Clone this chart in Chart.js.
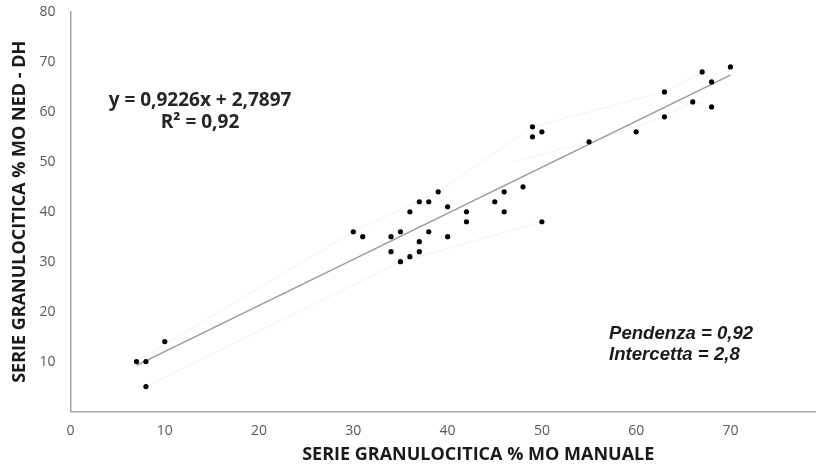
<!DOCTYPE html>
<html>
<head>
<meta charset="utf-8">
<script src="https://cdn.jsdelivr.net/npm/chart.js@4/dist/chart.umd.min.js"></script>
<style>
  html, body { margin: 0; padding: 0; overflow: hidden; background: #fff; }
  canvas { display: block; }
</style>
</head>
<body>
<canvas id="chart" width="890" height="468"></canvas>
<script>
// % granulocytic series: manual count (x) vs NED-DH (y)
const manuale = [7, 8, 8, 10,
  30, 31, 34, 35, 34, 35, 36, 37, 37, 36, 37, 38, 38, 39, 40, 40, 42, 42, 45, 46, 46, 48, 50,
  49, 49, 50, 55, 60, 63, 63, 66, 67, 68, 68, 70];
const nedDh = [10, 10, 5, 14,
  36, 35, 35, 36, 32, 30, 31, 32, 34, 40, 42, 42, 36, 44, 41, 35, 40, 38, 42, 44, 40, 45, 38,
  57, 55, 56, 54, 56, 64, 59, 62, 68, 66, 61, 69];

// faint envelope lines around the cloud
const bandUpperX = [7, 30, 39, 49, 63, 67];
const bandUpperY = [10, 36, 44, 57, 64, 68];
const bandLowerX = [8, 35, 50];
const bandLowerY = [5, 30, 38];
const bandRightX = [47, 55, 63, 66, 68];
const bandRightY = [50, 54, 59, 62, 61];

// regression line
const slope = 0.9226;
const intercept = 2.7897;
const r2 = 0.92;

const xTicks = [0, 10, 20, 30, 40, 50, 60, 70, 80];
const yTicks = [10, 20, 30, 40, 50, 60, 70, 80];

const toPts = (xs, ys) => xs.map((x, i) => ({ x: x, y: ys[i] }));
const comma = (v, d) => v.toFixed(d).replace('.', ',');

const xMin = Math.min(...manuale);
const xMax = Math.max(...manuale);
const trend = [
  { x: xMin, y: slope * xMin + intercept },
  { x: xMax, y: slope * xMax + intercept }
];

const notes = {
  id: 'notes',
  afterDraw(chart) {
    const ctx = chart.ctx;
    ctx.save();
    ctx.fillStyle = '#262626';
    ctx.textAlign = 'center';
    ctx.textBaseline = 'middle';
    ctx.font = 'bold 19px "Open Sans"';
    ctx.fillText('y = ' + comma(slope, 4) + 'x + ' + comma(intercept, 4), 200, 101);
    ctx.fillText('R² = ' + comma(r2, 2), 200, 123);

    ctx.fillStyle = '#1a1a1a';
    ctx.textAlign = 'left';
    ctx.font = 'italic bold 18.6px "Liberation Sans"';
    ctx.fillText('Pendenza = ' + comma(slope, 2), 609, 334);
    ctx.fillText('Intercetta = ' + comma(intercept, 1), 609, 355);
    ctx.restore();
  }
};

const tickFont = { family: 'Open Sans', size: 14 };
const titleFont = { family: 'Open Sans', size: 18, weight: 'bold' };

const faint = (xs, ys) => ({
  data: toPts(xs, ys),
  showLine: true,
  borderColor: '#f1f1f1',
  borderWidth: 1,
  pointRadius: 0
});

new Chart(document.getElementById('chart'), {
  type: 'scatter',
  data: {
    datasets: [
      {
        label: 'punti',
        data: toPts(manuale, nedDh),
        pointRadius: 2.6,
        pointBackgroundColor: '#000',
        pointBorderWidth: 0,
        showLine: false
      },
      {
        label: 'lineare',
        data: trend,
        showLine: true,
        borderColor: '#9a9a9a',
        borderWidth: 1.5,
        pointRadius: 0
      },
      faint(bandUpperX, bandUpperY),
      faint(bandLowerX, bandLowerY),
      faint(bandRightX, bandRightY)
    ]
  },
  options: {
    responsive: false,
    animation: false,
    layout: { padding: { top: 12, right: 4, bottom: 0, left: 0 } },
    plugins: {
      legend: { display: false },
      tooltip: { enabled: false }
    },
    scales: {
      x: {
        min: 0,
        max: 86.5,
        afterFit: s => { s.height = 56.5; s.paddingLeft = 0; s.paddingRight = 0; },
        afterBuildTicks: s => { s.ticks = xTicks.map(v => ({ value: v })); },
        grid: { display: false, drawTicks: false },
        border: { display: true, color: '#a6a6a6', width: 1.5 },
        ticks: { padding: 11, color: '#595959', font: tickFont, includeBounds: false },
        title: {
          display: true,
          text: 'SERIE GRANULOCITICA % MO MANUALE',
          color: '#1a1a1a',
          font: titleFont,
          padding: { top: 0, bottom: 2 }
        }
      },
      y: {
        min: 0,
        max: 80,
        afterFit: s => { s.width = 70.5; s.paddingTop = 0; s.paddingBottom = 0; },
        afterBuildTicks: s => { s.ticks = yTicks.map(v => ({ value: v })); },
        grid: { display: false, drawTicks: false },
        border: { display: true, color: '#a6a6a6', width: 1.5 },
        ticks: { padding: 15, color: '#595959', font: tickFont },
        title: {
          display: true,
          text: 'SERIE GRANULOCITICA % MO NED - DH',
          color: '#1a1a1a',
          font: titleFont,
          padding: { top: 9, bottom: 0 }
        }
      }
    }
  },
  plugins: [notes]
});
</script>
</body>
</html>
